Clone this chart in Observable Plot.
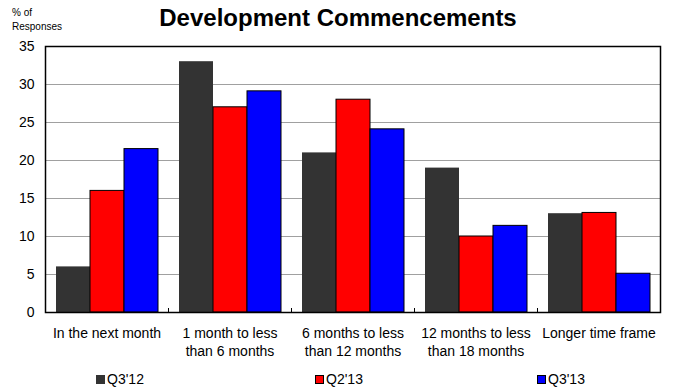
<!DOCTYPE html>
<html>
<head>
<meta charset="utf-8">
<script src="https://cdn.jsdelivr.net/npm/d3@7"></script>
<script src="https://cdn.jsdelivr.net/npm/@observablehq/plot@0.6"></script>
<style>
  html, body { margin: 0; padding: 0; background: #fff; }
  #wrap { position: relative; width: 673px; height: 391px; font-family: "Liberation Sans", Arial, sans-serif; color: #000; overflow: hidden; }
  #wrap svg { position: absolute; left: 0; top: 0; }
  .abs { position: absolute; white-space: nowrap; }
  #title { left: 0; width: 676px; text-align: center; top: 6px; font-size: 24px; line-height: 24px; font-weight: bold; }
  .ylab { left: 12px; font-size: 10px; line-height: 10px; }
  .leg { top: 372px; font-size: 14px; line-height: 14px; display: flex; align-items: center; }
  .sw { display: inline-block; width: 9px; height: 9px; margin-right: 2px; box-sizing: border-box; }
</style>
</head>
<body>
<div id="wrap">
  <div id="chart"></div>
  <div id="title" class="abs">Development Commencements</div>
  <div class="abs ylab" style="top:8px">% of</div>
  <div class="abs ylab" style="top:22px">Responses</div>
  <div id="legend"></div>
</div>
<script>
const categories = [
  "In the next month",
  "1 month to less\nthan 6 months",
  "6 months to less\nthan 12 months",
  "12 months to less\nthan 18 months",
  "Longer time frame"
];
const seriesNames = ["Q3'12", "Q2'13", "Q3'13"];
const q312 = [6, 33, 21, 19, 13];
const q213 = [16, 27, 28, 10, 13.1];
const q313 = [21.5, 29.1, 24.1, 11.4, 5.1];
const seriesColors = ["#333333", "#ff0000", "#0000ff"];
const yTicks = [0, 5, 10, 15, 20, 25, 30, 35];

const seriesValues = [q312, q213, q313];
const data = categories.flatMap((c, i) =>
  seriesNames.map((s, j) => ({category: c, series: s, value: seriesValues[j][i]}))
);

const chart = Plot.plot({
  width: 673,
  height: 391,
  marginTop: 46,
  marginBottom: 79,
  marginLeft: 44,
  marginRight: 12,
  style: {fontFamily: "'Liberation Sans', Arial, sans-serif", fontSize: "14px", color: "#000", background: "transparent"},
  fx: {domain: categories, padding: 0, label: null},
  x: {domain: seriesNames, paddingInner: 0, paddingOuter: 0.26, axis: null},
  y: {domain: [0, 35], label: null},
  color: {domain: seriesNames, range: seriesColors},
  marks: [
    Plot.gridY(yTicks.slice(1, -1), {stroke: "#a0a0a0", strokeOpacity: 1}),
    Plot.barY(data.filter(d => d.series === seriesNames[0]), {fx: "category", x: "series", y: "value", fill: "series", insetLeft: 0, insetRight: 0}),
    Plot.barY(data.filter(d => d.series !== seriesNames[0]), {fx: "category", x: "series", y: "value", fill: "series", stroke: "#000", strokeWidth: 1, insetLeft: 0, insetRight: 0}),
    Plot.frame({anchor: "left", insetTop: 262, stroke: "#000", strokeWidth: 1}),
    Plot.axisY(yTicks, {tickSize: 0, tickPadding: 11, fontSize: 14, label: null}),
    Plot.axisFx({anchor: "bottom", tickSize: 0, tickPadding: 12, fontSize: 14, lineHeight: 1.31, label: null}),
    Plot.frame({facet: "super", stroke: "#000", strokeWidth: 1.5})
  ]
});
document.getElementById("chart").appendChild(chart);

const legendX = [96, 315, 537];
const legend = document.getElementById("legend");
seriesNames.forEach((s, i) => {
  const item = document.createElement("div");
  item.className = "abs leg";
  item.style.left = legendX[i] + "px";
  const sw = document.createElement("span");
  sw.className = "sw";
  sw.style.background = seriesColors[i];
  if (i > 0) sw.style.border = "1px solid #000";
  item.appendChild(sw);
  item.appendChild(document.createTextNode(s));
  legend.appendChild(item);
});
</script>
</body>
</html>
